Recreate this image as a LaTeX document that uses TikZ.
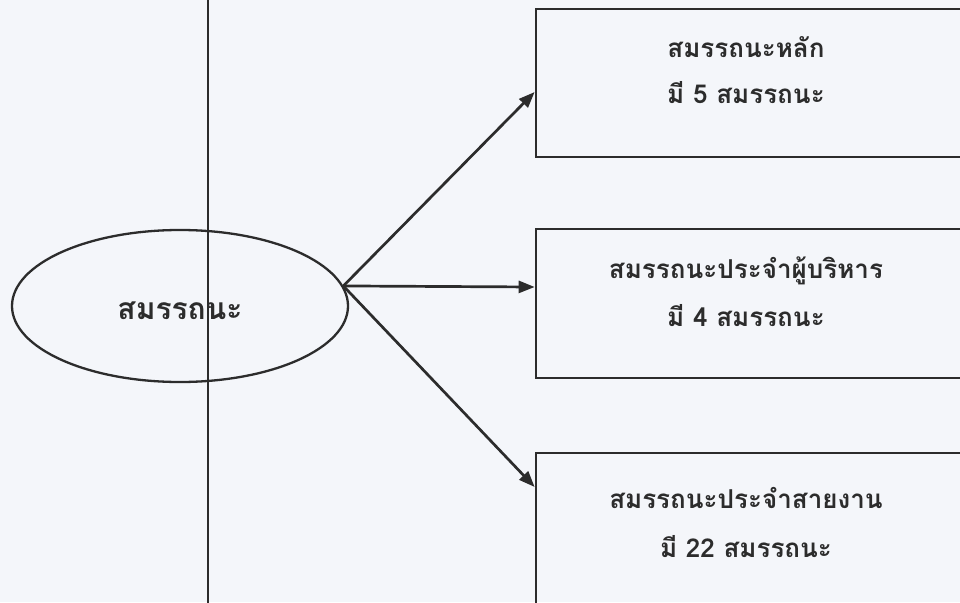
\documentclass[tikz,border=0pt]{standalone}
\usepackage{fontspec}
\newfontfamily\thaifont[Script=Thai]{Loma}
\usetikzlibrary{shapes.geometric,arrows.meta}
\definecolor{bg}{HTML}{F4F6FA}
\definecolor{ink}{HTML}{2C2C2C}
\begin{document}
\begin{tikzpicture}[x=1pt,y=-1pt,
  box/.style={draw=ink, line width=2.7pt, rectangle, minimum width=464pt, inner sep=0pt},
  oval/.style={ellipse, draw=ink, line width=2.3pt, minimum width=336pt, minimum height=152pt, inner sep=0pt},
  txt/.style={font=\thaifont\bfseries\fontsize{26}{30}\selectfont, text=ink, anchor=base, inner sep=0pt},
  arr/.style={draw=ink, line width=2.7pt, -{Triangle[length=16pt,width=12pt]}},
  rule/.style={draw=ink, line width=1.5pt}]
\fill[bg] (0,0) rectangle (960,602);
\useasboundingbox (0,0) rectangle (960,602);
\clip (0,0) rectangle (960,602);
% central ellipse
\node[oval] (e) at (180,306) {};
\node[txt, font=\thaifont\bfseries\fontsize{30}{34}\selectfont] (et) at (180,319) {สมรรถนะ};
% boxes (their right edges lie beyond the picture)
\node[box, minimum height=148pt] (b1) at (768,83) {};
\node[box, minimum height=149pt] (b2) at (768,303.5) {};
\node[box, minimum height=197pt] (b3) at (768,551.5) {};
\node[txt] (t1a) at (746,57) {สมรรถนะหลัก};
\node[txt] (t1b) at (746,103) {มี 5 สมรรถนะ};
\node[txt] (t2a) at (746,278) {สมรรถนะประจำผู้บริหาร};
\node[txt] (t2b) at (746,326) {มี 4 สมรรถนะ};
\node[txt] (t3a) at (746,508) {สมรรถนะประจำสายงาน};
\node[txt] (t3b) at (746,557) {มี 22 สมรรถนะ};
% arrows
\draw[arr] (e.7) -- ([yshift=-9pt]b1.west);
\draw[arr] (e.7) -- ([yshift=16.5pt]b2.west);
\draw[arr] (e.7) -- ([yshift=64.5pt]b3.west);
% vertical rule
\coordinate (vtop) at (208,-5);
\coordinate (vbot) at (208,610);
\draw[rule] (vtop) -- (vbot);
\end{tikzpicture}
\end{document}
